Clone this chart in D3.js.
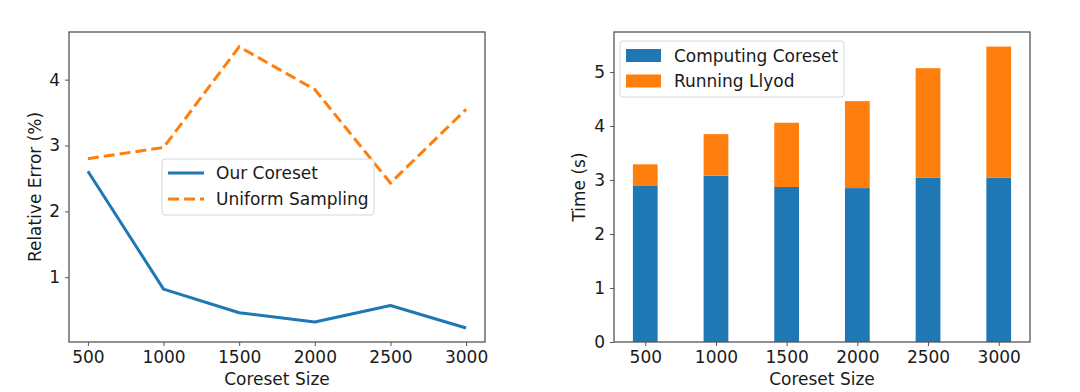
<!DOCTYPE html>
<html><head><meta charset="utf-8">
<script src="https://cdn.jsdelivr.net/npm/d3@7"></script>
<style>body{margin:0;background:#fff}svg{display:block;font-family:"DejaVu Sans",sans-serif}</style>
</head><body>
<svg id="c" width="1080" height="392"></svg>
<script>
const sizes = [500, 1000, 1500, 2000, 2500, 3000];
const ourCoreset = [2.61, 0.82, 0.46, 0.32, 0.57, 0.23];
const uniformSampling = [2.80, 2.97, 4.50, 3.85, 2.43, 3.55];
const computingCoreset = [2.90, 3.08, 2.87, 2.85, 3.04, 3.04];
const runningLlyod = [0.39, 0.77, 1.19, 1.61, 2.03, 2.43];
const leftYTicks = [1, 2, 3, 4];
const rightYTicks = [0, 1, 2, 3, 4, 5];

const blue = "#1f77b4", orange = "#ff7f0e", frame = "#555";
const svg = d3.select("#c");
const fs = 17;

function styleAxis(g){
  g.selectAll(".domain").remove();
  g.selectAll("line").attr("stroke", frame).attr("stroke-width", 1);
  g.selectAll("text").attr("font-size", fs).attr("fill", "#1a1a1a").attr("font-family", "DejaVu Sans");
}

// ---------- Left chart ----------
const L = {x0: 69, x1: 485, y0: 32, y1: 342};
const lx = d3.scaleLinear().domain([375, 3125]).range([L.x0, L.x1]);
const ly = d3.scaleLinear().domain([0.0165, 4.7235]).range([L.y1, L.y0]);
const gl = svg.append("g");
gl.append("g").attr("transform", `translate(0,${L.y1})`)
  .call(d3.axisBottom(lx).tickValues(sizes).tickSize(4).tickPadding(5).tickFormat(d3.format("d")))
  .call(styleAxis);
gl.append("g").attr("transform", `translate(${L.x0},0)`)
  .call(d3.axisLeft(ly).tickValues(leftYTicks).tickSize(4).tickPadding(5).tickFormat(d3.format("d")))
  .call(styleAxis);
const line = d3.line().x((d,i)=>lx(sizes[i])).y(d=>ly(d));
gl.append("path").datum(ourCoreset).attr("d", line).attr("fill","none")
  .attr("stroke", blue).attr("stroke-width", 3).attr("stroke-linejoin","round");
gl.append("path").datum(uniformSampling).attr("d", line).attr("fill","none")
  .attr("stroke", orange).attr("stroke-width", 3).attr("stroke-dasharray","11,5");
gl.append("rect").attr("x", L.x0).attr("y", L.y0).attr("width", L.x1-L.x0).attr("height", L.y1-L.y0)
  .attr("fill","none").attr("stroke", frame).attr("stroke-width", 1.3);
// legend
const lg = gl.append("g");
lg.append("rect").attr("x", 162).attr("y", 159).attr("width", 212).attr("height", 56).attr("rx", 3)
  .attr("fill","rgba(255,255,255,0.8)").attr("stroke","#d6d6d6");
const lgItems = [{t:"Our Coreset", c:blue, dash:null, y:173},{t:"Uniform Sampling", c:orange, dash:"11,5", y:199}];
lgItems.forEach(it=>{
  lg.append("line").attr("x1",168).attr("x2",204).attr("y1",it.y).attr("y2",it.y)
    .attr("stroke",it.c).attr("stroke-width",3).attr("stroke-dasharray",it.dash);
  lg.append("text").attr("x",216).attr("y",it.y).attr("dy","0.36em").attr("font-size",fs).attr("fill","#1a1a1a").text(it.t);
});
gl.append("text").attr("x",(L.x0+L.x1)/2).attr("y",379).attr("dy","0.36em").attr("text-anchor","middle")
  .attr("font-size",fs).attr("fill","#1a1a1a").text("Coreset Size");
gl.append("text").attr("transform",`translate(35,187) rotate(-90)`).attr("dy","0.36em").attr("text-anchor","middle")
  .attr("font-size",fs).attr("fill","#1a1a1a").text("Relative Error (%)");

// ---------- Right chart ----------
const R = {x0: 614, x1: 1030, y0: 32, y1: 342};
const rx = d3.scaleLinear().domain([-0.4425, 5.4425]).range([R.x0, R.x1]);
const ry = d3.scaleLinear().domain([0, 5.74]).range([R.y1, R.y0]);
const bw = rx(0.35) - rx(0);
const gr = svg.append("g");
gr.append("g").attr("transform", `translate(0,${R.y1})`)
  .call(d3.axisBottom(rx).tickValues(d3.range(sizes.length)).tickSize(4).tickPadding(5).tickFormat(i=>sizes[i]))
  .call(styleAxis);
gr.append("g").attr("transform", `translate(${R.x0},0)`)
  .call(d3.axisLeft(ry).tickValues(rightYTicks).tickSize(4).tickPadding(5).tickFormat(d3.format("d")))
  .call(styleAxis);
gr.selectAll(".b1").data(computingCoreset).join("rect")
  .attr("x",(d,i)=>rx(i)-bw/2).attr("width",bw)
  .attr("y",d=>ry(d)).attr("height",d=>ry(0)-ry(d)).attr("fill",blue);
gr.selectAll(".b2").data(runningLlyod).join("rect")
  .attr("x",(d,i)=>rx(i)-bw/2).attr("width",bw)
  .attr("y",(d,i)=>ry(computingCoreset[i]+d)).attr("height",(d,i)=>ry(computingCoreset[i])-ry(computingCoreset[i]+d)).attr("fill",orange);
gr.append("rect").attr("x", R.x0).attr("y", R.y0).attr("width", R.x1-R.x0).attr("height", R.y1-R.y0)
  .attr("fill","none").attr("stroke", frame).attr("stroke-width", 1.3);
const rg = gr.append("g");
rg.append("rect").attr("x", 620).attr("y", 41).attr("width", 224).attr("height", 56).attr("rx", 3)
  .attr("fill","rgba(255,255,255,0.8)").attr("stroke","#d6d6d6");
[{t:"Computing Coreset", c:blue, y:55.5},{t:"Running Llyod", c:orange, y:81}].forEach(it=>{
  rg.append("rect").attr("x",626).attr("y",it.y-6.5).attr("width",35).attr("height",13).attr("fill",it.c);
  rg.append("text").attr("x",674).attr("y",it.y).attr("dy","0.36em").attr("font-size",fs).attr("fill","#1a1a1a").text(it.t);
});
gr.append("text").attr("x",(R.x0+R.x1)/2).attr("y",379).attr("dy","0.36em").attr("text-anchor","middle")
  .attr("font-size",fs).attr("fill","#1a1a1a").text("Coreset Size");
gr.append("text").attr("transform",`translate(579,187) rotate(-90)`).attr("dy","0.36em").attr("text-anchor","middle")
  .attr("font-size",fs).attr("fill","#1a1a1a").text("Time (s)");
</script>
</body></html>
